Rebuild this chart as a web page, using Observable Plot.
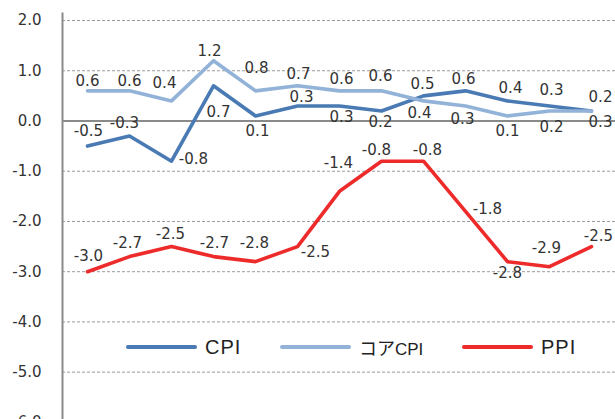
<!DOCTYPE html>
<html>
<head>
<meta charset="utf-8">
<script src="https://cdn.jsdelivr.net/npm/d3@7"></script>
<script src="https://cdn.jsdelivr.net/npm/@observablehq/plot@0.6"></script>
<style>
  html, body { margin: 0; padding: 0; background: #fff; overflow: hidden; width: 615px; height: 419px; }
  #wrap { position: relative; width: 615px; height: 419px; overflow: hidden; }
  #legend { position: absolute; left: 0; top: 0; width: 615px; height: 419px; pointer-events: none; }
  .item { position: absolute; top: 336px; height: 22px; display: flex; align-items: center; white-space: nowrap; color: #222; }
  .sw { width: 71px; height: 4px; border-radius: 2px; margin-right: 8px; }
  .lat { font-family: "Liberation Sans", Arial, sans-serif; }
  .jp { font-family: "Noto Sans CJK JP", sans-serif; }
</style>
</head>
<body>
<div id="wrap"><div id="chart"></div><div id="legend"></div></div>
<script>
// ---- data ----
const periods = [0, 1, 2, 3, 4, 5, 6, 7, 8, 9, 10, 11, 12];
const cpi      = [-0.5, -0.3, -0.8, 0.7, 0.1, 0.3, 0.3, 0.2, 0.5, 0.6, 0.4, 0.3, 0.2];
const coreCpi  = [0.6, 0.6, 0.4, 1.2, 0.6, 0.7, 0.6, 0.6, 0.4, 0.3, 0.1, 0.2, 0.2];
const coreCpiLabels = ["0.6", "0.6", "0.4", "1.2", "0.8", "0.7", "0.6", "0.6", "0.4", "0.3", "0.1", "0.2", "0.3"];
const ppi      = [-3.0, -2.7, -2.5, -2.7, -2.8, -2.5, -1.4, -0.8, -0.8, -1.8, -2.8, -2.9, -2.5];
const seriesNames = ["CPI", "コアCPI", "PPI"];
const yTicks = [2, 1, 0, -1, -2, -3, -4, -5, -6];

// ---- styles ----
const colors = {"CPI": "#4a7ab4", "コアCPI": "#92b2d8", "PPI": "#ee2b2b"};
// label offsets [dx, dy] relative to each point
const offsets = {
  "CPI": [[1,-15],[-5,-13],[22,-2],[5,26],[2,15],[4,-9],[2,11],[-1,11],[-1,-12],[-2,-12],[3,-13],[2,-16],[9,-14]],
  "コアCPI": [[0,-10],[0,-10],[-7,-18],[-4,-10],[1,-23],[1,-12],[2,-12],[-1,-15],[-4,12],[-3,13],[0,15],[2,16],[9,11]],
  "PPI": [[1,-16],[-2,-13],[-1,-12],[1,-13],[-1,-18],[18,6],[-1,-28],[-5,-11],[4,-11],[22,-2],[0,12],[-3,-18],[7,-10]]
};

const seriesValues = {"CPI": cpi, "コアCPI": coreCpi, "PPI": ppi};
const seriesLabels = {
  "CPI": cpi.map(v => v.toFixed(1)),
  "コアCPI": coreCpiLabels,
  "PPI": ppi.map(v => v.toFixed(1))
};

const rows = [];
for (const s of seriesNames) {
  periods.forEach((p, i) => rows.push({series: s, period: p, value: seriesValues[s][i], label: seriesLabels[s][i], i}));
}

const labelFont = {fontFamily: "DejaVu Sans, Verdana, sans-serif", fontSize: 15, fill: "#333"};

const labelMarks = [];
for (const s of ["PPI", "コアCPI", "CPI"]) {
  rows.filter(r => r.series === s).forEach(r => {
    const [dx, dy] = offsets[s][r.i];
    labelMarks.push(Plot.text([r], {x: "period", y: "value", text: "label", dx, dy,
      textAnchor: "middle", lineAnchor: "middle", ...labelFont}));
  });
}

const chart = Plot.plot({
  width: 615,
  height: 447,
  marginLeft: 62,
  marginRight: 0,
  marginTop: 13,
  marginBottom: 0,
  style: {background: "transparent", overflow: "visible"},
  x: {type: "point", domain: periods, padding: 0.5, axis: null},
  y: {domain: [-6.5, 2.14], axis: null},
  marks: [
    Plot.ruleY(yTicks.filter(t => t !== 0), {stroke: "#9a9a9a", strokeWidth: 1, strokeDasharray: "3,2"}),
    Plot.ruleY([0], {stroke: "#8a8a8a", strokeWidth: 2}),
    Plot.frame({anchor: "left", stroke: "#8a8a8a", strokeWidth: 2}),
    Plot.text(yTicks, {y: d => d, text: d => d.toFixed(1), frameAnchor: "left", dx: -21,
      textAnchor: "end", lineAnchor: "middle", ...labelFont}),
    Plot.line(rows, {x: "period", y: "value", z: "series", stroke: d => colors[d.series],
      strokeWidth: 3.6, strokeLinejoin: "round", strokeLinecap: "round"}),
    ...labelMarks
  ]
});
document.getElementById("chart").appendChild(chart);

// ---- legend ----
const legendLeft = {"CPI": 126, "コアCPI": 280, "PPI": 462};
const legend = document.getElementById("legend");
for (const s of seriesNames) {
  const item = document.createElement("div");
  item.className = "item";
  item.style.left = legendLeft[s] + "px";
  const sw = document.createElement("div");
  sw.className = "sw";
  sw.style.background = colors[s];
  item.appendChild(sw);
  const t = document.createElement("span");
  if (s === "コアCPI") {
    t.innerHTML = '<span class="jp" style="font-size:18px">コア</span><span class="lat" style="font-size:17px">CPI</span>';
  } else {
    t.className = "lat";
    t.style.fontSize = "20px";
    t.style.letterSpacing = "1px";
    t.textContent = s;
  }
  item.appendChild(t);
  legend.appendChild(item);
}
</script>
</body>
</html>
